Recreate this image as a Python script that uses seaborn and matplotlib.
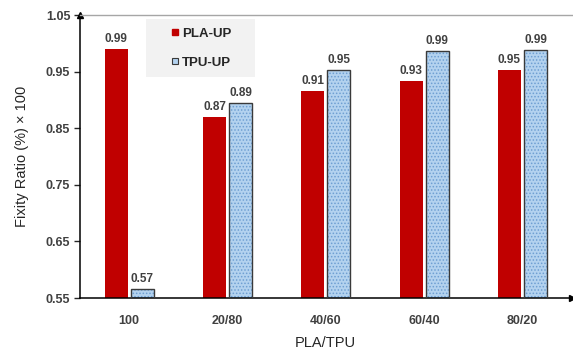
import numpy as np
import pandas as pd
import seaborn as sns
import matplotlib.pyplot as plt
from matplotlib.lines import Line2D
from matplotlib.patches import Rectangle

ratios = ['100', '20/80', '40/60', '60/40', '80/20']
pla_up = [0.990, 0.870, 0.916, 0.934, 0.953]
tpu_up = [0.566, 0.895, 0.953, 0.986, 0.988]
pla_labels = ['0.99', '0.87', '0.91', '0.93', '0.95']
tpu_labels = ['0.57', '0.89', '0.95', '0.99', '0.99']
y_ticks = [0.55, 0.65, 0.75, 0.85, 0.95, 1.05]

red = '#c00000'
blue = '#b3d2ef'
dots = '#6e9fd2'
txt = '#404040'

df = pd.DataFrame({
    'ratio': ratios * 2,
    'value': pla_up + tpu_up,
    'series': ['PLA-UP'] * 5 + ['TPU-UP'] * 5,
})

sns.set_style('white')
plt.rcParams['font.family'] = ['Liberation Sans', 'DejaVu Sans']
plt.rcParams['hatch.linewidth'] = 0.7

fig = plt.figure(figsize=(5.73, 3.49), dpi=100)
ax = fig.add_axes([0.1396, 0.146, 0.858, 0.811])

sns.barplot(data=df, x='ratio', y='value', hue='series', order=ratios,
            hue_order=['PLA-UP', 'TPU-UP'], palette=[red, blue], saturation=1,
            width=0.53, gap=0.11, legend=False, ax=ax, linewidth=0)

ax.set_ylim(0.55, 1.05)
ax.set_xlim(-0.5, 4.5)
ax.set_yticks(y_ticks)
ax.set_yticklabels([f'{t:.2f}' for t in y_ticks])

# TPU bars: dotted fill + dark outline
tpu_bars = ax.containers[1]
for p in tpu_bars:
    p.set_hatch('.....')
    p.set_edgecolor(dots)
    p.set_linewidth(0)
    ax.add_patch(Rectangle(p.get_xy(), p.get_width(), p.get_height(),
                           fill=False, edgecolor='#3a3a3a', linewidth=1.0, zorder=3))

for cont, labs in zip(ax.containers[:2], [pla_labels, tpu_labels]):
    ax.bar_label(cont, labels=labs, padding=3, fontsize=8.5, fontweight='bold',
                 color=txt)

ax.spines['right'].set_visible(False)
ax.spines['top'].set_color('#a6a6a6')
ax.spines['top'].set_linewidth(1.0)
for s in ['left', 'bottom']:
    ax.spines[s].set_color('black')
    ax.spines[s].set_linewidth(1.1)
ax.plot(0, 1, '^', color='black', markersize=4, transform=ax.transAxes, clip_on=False)
ax.plot(1, 0, '>', color='black', markersize=4, transform=ax.transAxes, clip_on=False)

ax.tick_params(axis='y', left=True, direction='out', length=4, width=1,
               labelsize=9, labelcolor=txt, pad=3)
ax.tick_params(axis='x', bottom=False, labelsize=9, labelcolor=txt, pad=9)
for lab in ax.get_xticklabels() + ax.get_yticklabels():
    lab.set_fontweight('bold')

ax.set_xlabel('PLA/TPU', fontsize=10.5, color='#262626', labelpad=6)
ax.set_ylabel('Fixity Ratio (%) × 100', fontsize=10.5, color='#262626', labelpad=12)

# legend with grey box
ax.add_patch(Rectangle((0.134, 0.781), 0.222, 0.205, transform=ax.transAxes,
                       facecolor='#f2f2f2', edgecolor='none', zorder=1))
handles = [
    Line2D([], [], marker='s', linestyle='none', markersize=5,
           markerfacecolor=red, markeredgecolor=red),
    Line2D([], [], marker='s', linestyle='none', markersize=5,
           markerfacecolor=blue, markeredgecolor='#3a3a3a', markeredgewidth=0.8),
]
leg = ax.legend(handles, ['PLA-UP', 'TPU-UP'], loc='center left',
                bbox_to_anchor=(0.175, 0.883), frameon=False, handlelength=0.6,
                handletextpad=0.2, labelspacing=1.3, borderaxespad=0,
                prop={'size': 9.5, 'weight': 'bold'})
for t in leg.get_texts():
    t.set_color('#262626')

fig.savefig('out.png', dpi=100)
